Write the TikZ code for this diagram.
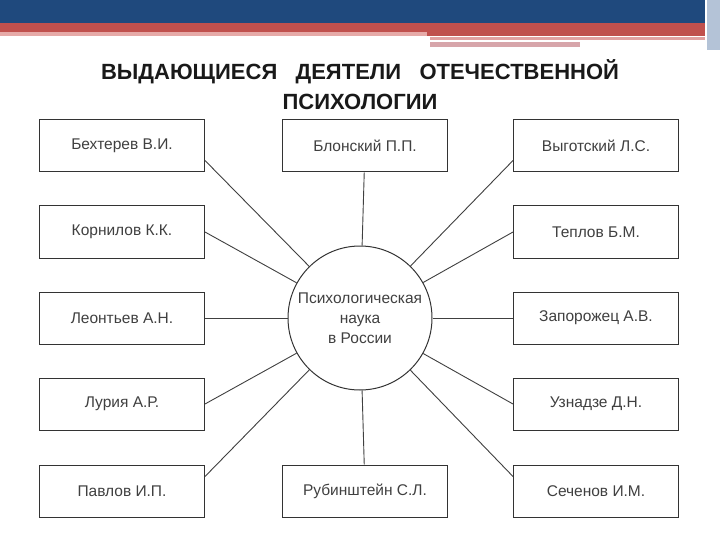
\documentclass[tikz,border=0pt]{standalone}
\usepackage{fontspec}
\setmainfont{Liberation Sans}
\definecolor{bandblue}{RGB}{31,73,125}
\definecolor{bandred}{RGB}{192,80,77}
\definecolor{pinkA}{RGB}{230,170,168}
\definecolor{pinkB}{RGB}{225,160,160}
\definecolor{pinkC}{RGB}{215,165,170}
\definecolor{edgeblue}{RGB}{180,195,215}
\begin{document}
\begin{tikzpicture}[x=1pt,y=-1pt,
  pbox/.style={draw=black!80,line width=1pt,minimum width=165pt,minimum height=52pt,font=\fontsize{15.5}{18}\selectfont,text=black!75},
  link/.style={draw=black!75,line width=0.9pt}]
\useasboundingbox (0,0) rectangle (720,540);
\fill[white] (0,0) rectangle (720,540);
\fill[bandblue] (0,0) rectangle (705,23);
\fill[bandred] (0,23) rectangle (705,32);
\fill[pinkA] (0,32) rectangle (427,36);
\fill[bandred] (427,32) rectangle (705,36);
\fill[pinkB] (430,37) rectangle (705,40);
\fill[pinkC] (430,42) rectangle (580,47);
\fill[edgeblue] (707,0) rectangle (720,50);
\node[font=\bfseries\fontsize{22}{30}\selectfont,align=center,text=black!90] (title) at (360,85) {ВЫДАЮЩИЕСЯ\ \ \ ДЕЯТЕЛИ\ \ \ ОТЕЧЕСТВЕННОЙ\\ПСИХОЛОГИИ};
\node[circle,draw=black!80,line width=1pt,minimum size=144pt,align=center,font=\fontsize{15.5}{20}\selectfont,text=black!75,inner sep=0pt] (c) at (360,318) {Психологическая\\наука\\в России};
\node[pbox] (l1) at (122,146) {Бехтерев В.И.};
\node[pbox] (l2) at (122,232) {Корнилов К.К.};
\node[pbox] (l3) at (122,318) {Леонтьев А.Н.};
\node[pbox] (l4) at (122,404) {Лурия А.Р.};
\node[pbox] (l5) at (122,491) {Павлов И.П.};
\node[pbox] (m1) at (365,146) {Блонский П.П.};
\node[pbox] (m2) at (365,491) {Рубинштейн С.Л.};
\node[pbox] (r1) at (596,146) {Выготский Л.С.};
\node[pbox] (r2) at (596,232) {Теплов Б.М.};
\node[pbox] (r3) at (596,318) {Запорожец А.В.};
\node[pbox] (r4) at (596,404) {Узнадзе Д.Н.};
\node[pbox] (r5) at (596,491) {Сеченов И.М.};
\coordinate (a1) at ([yshift=12pt]l1.south east);
\coordinate (a5) at ([yshift=-12pt]l5.north east);
\coordinate (b1) at ([yshift=12pt]r1.south west);
\coordinate (b5) at ([yshift=-12pt]r5.north west);
\draw[link] (a1) -- (c);
\draw[link] (l2.east) -- (c);
\draw[link] (l3) -- (c);
\draw[link] (l4.east) -- (c);
\draw[link] (a5) -- (c);
\draw[link] (m1) -- (c);
\draw[link] (m2) -- (c);
\draw[link] (b1) -- (c);
\draw[link] (r2.west) -- (c);
\draw[link] (r3) -- (c);
\draw[link] (r4.west) -- (c);
\draw[link] (b5) -- (c);
\end{tikzpicture}
\end{document}
